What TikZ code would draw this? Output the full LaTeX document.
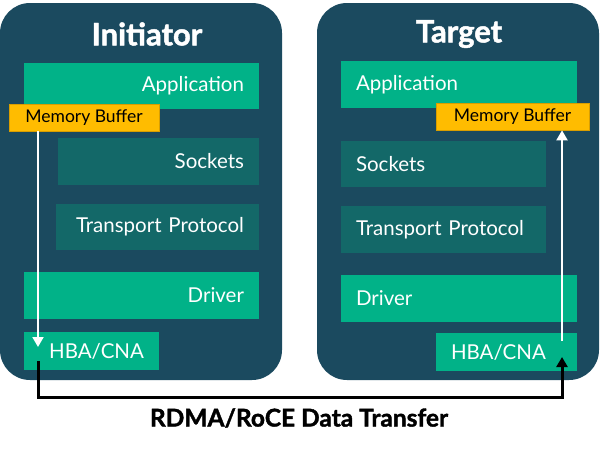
\documentclass[tikz,border=0pt]{standalone}
\usepackage{fontspec}
\setmainfont{Lato}
\newfontfamily\heavyfont{Lato}[BoldFeatures={FakeBold=1.5}]
\usetikzlibrary{arrows.meta}

\definecolor{panelblue}{HTML}{1B4A5F}
\definecolor{layergreen}{HTML}{01B288}
\definecolor{layerteal}{HTML}{136868}
\definecolor{bufyellow}{HTML}{FFBC00}
\definecolor{bufedge}{HTML}{D99E00}

\tikzset{
  layer/.style={fill=layergreen, text=white, inner xsep=15pt, inner ysep=0pt, font=\fontsize{20.5}{24}\selectfont},
  deep/.style={layer, fill=layerteal},
  buffer/.style={fill=bufyellow, draw=bufedge, line width=0.6pt, text=black, inner sep=0pt, minimum width=#1, minimum height=27pt, font=\fontsize{17.5}{20}\selectfont},
  title/.style={text=white, font=\heavyfont\bfseries\fontsize{31}{36}\selectfont},
  whitearrow/.style={draw=white, line width=2pt, -{Triangle[width=11pt,length=10pt]}},
  link/.style={draw=black, line width=3pt, -{Triangle[width=11pt,length=10pt]}}
}

\begin{document}
\begin{tikzpicture}[x=1pt, y=-1pt]
			\useasboundingbox (0,0) rectangle (600,451);
			\fill[panelblue, rounded corners=30pt] (0,3) rectangle (282,380);
			\fill[panelblue, rounded corners=30pt] (317,3) rectangle (599,380);
			
			\node[title] (init) at (147,34) {Initiator};
			\node[title] (targ) at (459,34) {Target};
			
			\node[layer, text width=205pt, minimum height=46pt, align=right] (appL) at (141.5,86) {Application};
			\node[deep, text width=171pt, minimum height=47pt, align=right] (sockL) at (158.5,161.5) {Sockets};
			\node[deep, text width=173pt, minimum height=46pt, align=right] (tranL) at (157.5,227) {Transport Protocol};
			\node[layer, text width=205pt, minimum height=47pt, align=right] (drvL) at (141.5,295.5) {Driver};
			\node[layer, text width=105pt, minimum height=38pt, align=right] (hbaL) at (91.5,351) {HBA/CNA};
			\node[buffer=150pt] (bufL) at (84,117.5) {Memory Buffer};
			
			\node[layer, text width=206pt, minimum height=47pt, align=left] (appR) at (459,84.5) {Application};
			\node[deep, text width=175pt, minimum height=46pt, align=left] (sockR) at (443.5,164) {Sockets};
			\node[deep, text width=175pt, minimum height=47pt, align=left] (tranR) at (443.5,229.5) {Transport Protocol};
			\node[layer, text width=206pt, minimum height=47pt, align=left] (drvR) at (459,298.5) {Driver};
			\node[layer, text width=111pt, minimum height=38pt, align=left] (hbaR) at (506.5,352) {HBA/CNA};
			\node[buffer=153pt] (bufR) at (512.5,116.5) {Memory Buffer};
			
			\coordinate (downL) at (38,347);
			\coordinate (upR) at (562,341);
			\coordinate (outL) at (38,361);
			\coordinate (inR) at (562,357);
			\coordinate (wire) at (300,397);
			
			\draw[whitearrow] (bufL.south -| downL) -- (downL);
			\draw[whitearrow] (upR) -- (upR |- bufR.south);
			\draw[link] (outL) |- (wire) -| (inR);
			
			\node[font=\heavyfont\bfseries\fontsize{24.5}{28}\selectfont] (rdma) at (299,418) {RDMA/RoCE Data Transfer};
\end{tikzpicture}
\end{document}
